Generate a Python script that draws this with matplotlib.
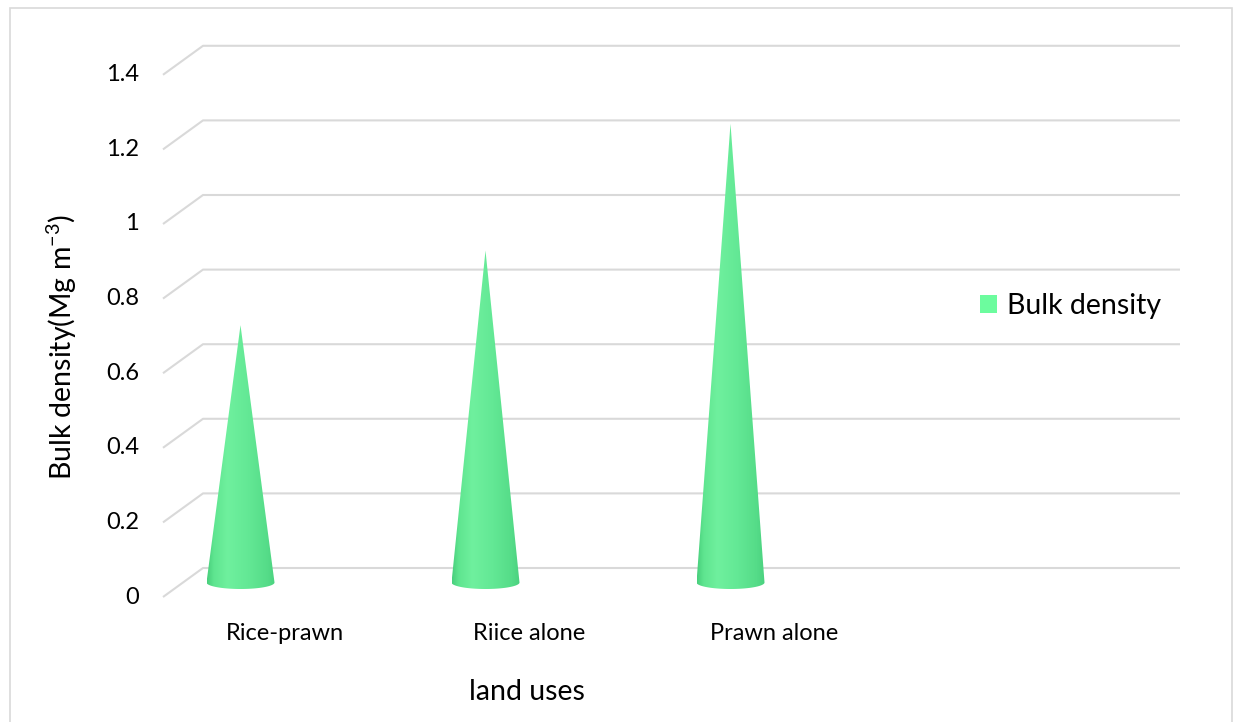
import numpy as np
import matplotlib
matplotlib.use('Agg')
import matplotlib.pyplot as plt
from matplotlib.patches import Polygon, Rectangle, Patch
from matplotlib.colors import LinearSegmentedColormap

# data
land_uses = ['Rice-prawn', 'Riice alone', 'Prawn alone']
bulk_density = [0.69, 0.89, 1.23]
y_ticks = [0, 0.2, 0.4, 0.6, 0.8, 1, 1.2, 1.4]
y_tick_labels = ['0', '0.2', '0.4', '0.6', '0.8', '1', '1.2', '1.4']

plt.rcParams['font.family'] = ['Lato', 'DejaVu Sans']
plt.rcParams['mathtext.fontset'] = 'custom'
plt.rcParams['mathtext.rm'] = 'Lato'
plt.rcParams['mathtext.it'] = 'Lato:italic'

W, H = 1242, 722
fig = plt.figure(figsize=(W / 100, H / 100), dpi=100)
ax = fig.add_axes([0, 0, 1, 1])

# one category = 245 px, one value unit = 373 px, origin at first cone base
x0, xs = 240.5, 245.0
y0, ys = 582.5, 373.0
def px(x, y):
    return (x - x0) / xs, (y0 - y) / ys

dx, dy = 20 / xs, 14.5 / ys      # half of the 3d depth
grid_left = px(163, 0)[0] + dx
grid_right = px(1180, 0)[0]
grid_col = '#d9d9d9'

tx, _ = px(139, 0)
for v, lab in zip(y_ticks, y_tick_labels):
    ax.plot([grid_left - dx, grid_left + dx, grid_right],
            [v - dy, v + dy, v + dy], color=grid_col, lw=1.5,
            solid_capstyle='butt', zorder=1)
    ax.text(tx, v - dy, lab, ha='right', va='center', fontsize=17,
            color='#000000')

cone_cmap = LinearSegmentedColormap.from_list('cone', [
    (0.0, '#48cf7c'), (0.1, '#5fe590'), (0.3, '#6ff09e'),
    (0.6, '#63e895'), (0.88, '#55dc88'), (1.0, '#4ad17f')])
grad = np.linspace(0, 1, 256).reshape(1, -1)

r, e = 34 / xs, 6.5 / ys
for i, v in enumerate(bulk_density):
    t = np.linspace(np.pi, 2 * np.pi, 60)
    base = np.column_stack([i + r * np.cos(t), e * np.sin(t)])
    verts = np.vstack([[[i, v]], base])
    poly = Polygon(verts, closed=True, facecolor='none', edgecolor='none')
    ax.add_patch(poly)
    im = ax.imshow(grad, extent=[i - r, i + r, -e, v], cmap=cone_cmap,
                   aspect='auto', interpolation='bilinear', zorder=3)
    im.set_clip_path(poly)

ax.set_xlim(-x0 / xs, (W - x0) / xs)
ax.set_ylim((y0 - H) / ys, y0 / ys)
ax.axis('off')

# category labels
_, cy = px(0, 633)
for i, name in enumerate(land_uses):
    ax.text(i + 44 / xs, cy, name, ha='center', va='center', fontsize=17)

lx, ly = px(527, 692)
ax.text(lx, ly, 'land uses', ha='center', va='center', fontsize=20.5)
yx, yy = px(62, 347)
ax.text(yx, yy, r'Bulk density(Mg m$^{\mathregular{-3}}$)', ha='center',
        va='center', rotation=90, fontsize=20.5)

handle = Patch(facecolor='#6cfc9e', edgecolor='none')
ax.legend(handles=[handle], labels=['Bulk density'], loc='center left',
          bbox_to_anchor=(980 / W, 1 - 306 / H), frameon=False, fontsize=20.5,
          handlelength=0.6, handleheight=0.6, handletextpad=0.35,
          borderpad=0, borderaxespad=0)

fig.patches.append(Rectangle((10 / W, -0.01), 1222 / W, 1 - 8 / H + 0.01,
                             transform=fig.transFigure, fill=False,
                             edgecolor='#d9d9d9', lw=1.2))

fig.savefig('out.png', dpi=100)
